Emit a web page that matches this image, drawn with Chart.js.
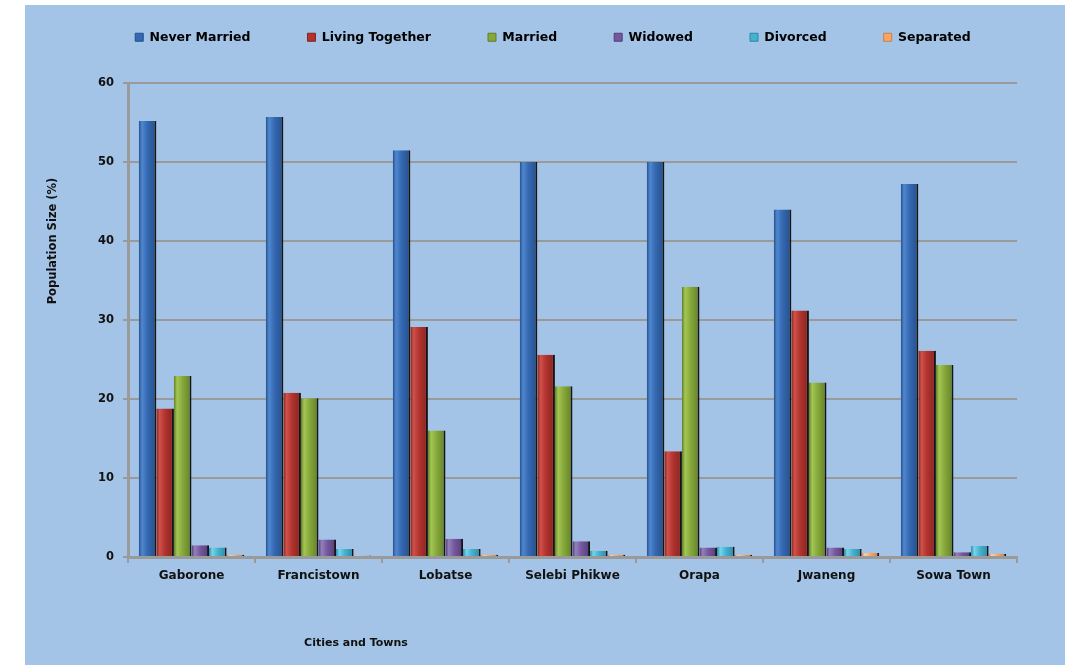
<!DOCTYPE html>
<html>
<head>
<meta charset="utf-8">
<script src="https://cdn.jsdelivr.net/npm/chart.js@4.4.0/dist/chart.umd.min.js"></script>
<style>
    html, body { margin: 0; padding: 0; background: #ffffff; }
    #wrap { position: absolute; left: 25px; top: 5px; width: 1040px; height: 660px; background: #a3c4e6; }
    #maritalChart { display: block; }
</style>
</head>
<body>
<div id="wrap"><canvas id="maritalChart" width="1040" height="660"></canvas></div>
<script>
const cities = ['Gaborone', 'Francistown', 'Lobatse', 'Selebi Phikwe', 'Orapa', 'Jwaneng', 'Sowa Town'];
const neverMarried = [55.2, 55.7, 51.5, 50.0, 50.0, 44.0, 47.2];
const livingTogether = [18.8, 20.8, 29.1, 25.6, 13.4, 31.2, 26.1];
const married = [22.9, 20.1, 16.0, 21.6, 34.2, 22.1, 24.3];
const widowed = [1.5, 2.2, 2.3, 2.0, 1.2, 1.2, 0.6];
const divorced = [1.2, 1.0, 1.0, 0.8, 1.3, 1.0, 1.4];
const separated = [0.3, 0.2, 0.3, 0.3, 0.3, 0.5, 0.4];
const yTicks = [0, 10, 20, 30, 40, 50, 60];
const yTitle = 'Population Size (%)';
const xTitle = 'Cities and Towns';

const seriesNames = ['Never Married', 'Living Together', 'Married', 'Widowed', 'Divorced', 'Separated'];
const seriesValues = [neverMarried, livingTogether, married, widowed, divorced, separated];
// [dark edge, highlight, body]
const palettes = [
    ['#244f8c', '#4f87cf', '#3468b0'],
    ['#86231f', '#d0514a', '#b0332e'],
    ['#627f26', '#a3c655', '#86a83a'],
    ['#553c78', '#9480bb', '#74589e'],
    ['#2a88a3', '#76d4ea', '#46b2d0'],
    ['#d27c3c', '#fcd2a4', '#f3a86a']
];
const catPct = 0.83;
const fontFam = '"DejaVu Sans", sans-serif';

function barFill(ctx) {
    const chart = ctx.chart;
    const pal = palettes[ctx.datasetIndex];
    const xs = chart.scales.x;
    if (!chart.chartArea || !xs || ctx.dataIndex === undefined) return pal[2];
    const cw = xs.width / cities.length;
    const bw = cw * catPct / seriesNames.length;
    const cx = xs.getPixelForValue(ctx.dataIndex) + (ctx.datasetIndex - (seriesNames.length - 1) / 2) * bw;
    const g = chart.ctx.createLinearGradient(cx - bw / 2, 0, cx + bw / 2, 0);
    g.addColorStop(0, pal[0]);
    g.addColorStop(0.18, pal[1]);
    g.addColorStop(0.5, pal[2]);
    g.addColorStop(1, pal[0]);
    return g;
}

const datasets = seriesNames.map((name, i) => ({
    label: name,
    data: seriesValues[i],
    backgroundColor: barFill,
    borderColor: '#151515',
    borderWidth: { top: 0, left: 0, bottom: 0, right: 2 },
    borderSkipped: false,
    barPercentage: 1.0,
    categoryPercentage: catPct
}));

// legend: make room below it so the plot starts where it should,
// and nudge it right like the original
const legendPlace = {
    id: 'legendPlace',
    beforeInit(chart) {
        const origFit = chart.legend.fit;
        chart.legend.fit = function () {
            origFit.call(this);
            this.height = 109;
        };
    },
    afterLayout(chart) {
        chart.legend.left += 17;
        chart.legend.right += 17;
    }
};

// axis titles sit off-centre in the original, so draw them by hand
const axisTitles = {
    id: 'axisTitles',
    afterDraw(chart) {
        const c = chart.ctx;
        c.save();
        c.fillStyle = '#111111';
        c.font = 'bold 11.5px ' + fontFam;
        c.textAlign = 'center';
        c.textBaseline = 'middle';
        c.translate(28, 236);
        c.rotate(-Math.PI / 2);
        c.fillText(yTitle, 0, 0);
        c.restore();
        c.save();
        c.fillStyle = '#111111';
        c.font = 'bold 11px ' + fontFam;
        c.textAlign = 'center';
        c.textBaseline = 'middle';
        c.fillText(xTitle, 331, 638);
        c.restore();
    }
};

const maritalChart = new Chart(document.getElementById('maritalChart'), {
    type: 'bar',
    data: { labels: cities, datasets: datasets },
    options: {
        responsive: false,
        animation: false,
        devicePixelRatio: 1,
        layout: { padding: { top: -31, left: 30, right: 48, bottom: 0 } },
        scales: {
            x: {
                afterFit: function (scale) { scale.height = 108; },
                grid: { drawOnChartArea: false, drawTicks: true, tickLength: 6, color: '#9a9a9a', lineWidth: 2, offset: true },
                border: { color: '#9a9a9a', width: 3 },
                ticks: { color: '#111111', padding: 6, font: { family: fontFam, size: 12, weight: 'bold' } }
            },
            y: {
                min: 0,
                max: 60,
                afterFit: function (scale) { scale.width = 73; },
                afterBuildTicks: function (scale) { scale.ticks = yTicks.map(v => ({ value: v })); },
                grid: { color: '#9a9a9a', lineWidth: 2, tickLength: 5 },
                border: { color: '#9a9a9a', width: 3 },
                ticks: { color: '#111111', padding: 9, font: { family: fontFam, size: 11.5, weight: 'bold' } }
            }
        },
        plugins: {
            legend: {
                position: 'top',
                labels: {
                    boxWidth: 8,
                    boxHeight: 8,
                    padding: 57,
                    color: '#111111',
                    font: { family: fontFam, size: 12.5, weight: 'bold' },
                    generateLabels: function (chart) {
                        return chart.data.datasets.map((ds, i) => ({
                            text: ds.label,
                            fillStyle: palettes[i][2],
                            strokeStyle: palettes[i][0],
                            lineWidth: 1,
                            hidden: !chart.isDatasetVisible(i),
                            datasetIndex: i
                        }));
                    }
                }
            },
            tooltip: { enabled: false }
        }
    },
    plugins: [legendPlace, axisTitles]
});
</script>
</body>
</html>
